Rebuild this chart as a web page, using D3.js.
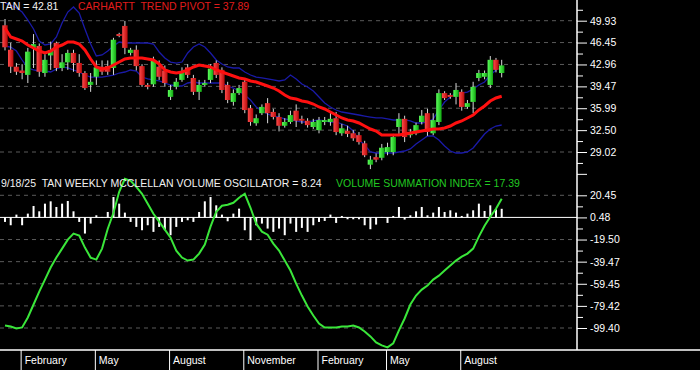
<!DOCTYPE html>
<html>
<head>
<meta charset="utf-8">
<script src="https://d3js.org/d3.v7.min.js"></script>
<style>
  body { margin: 0; background: #000; }
  svg { display: block; }
  text { font-family: "Liberation Sans", Arial, sans-serif; white-space: pre; }
</style>
</head>
<body>
<svg></svg>
<script>
// weekly TAN candles
const opens = [49.2,45.3,42.6,42.0,41.3,45.6,45.9,41.6,44.4,46.4, 42.4,43.3,44.8,43.2,41.6,39.7,41.0,42.6,42.7,42.4,
  47.8,49.1,44.8,45.3,42.7,39.7,39.8,42.6,42.0,37.8, 39.4,40.5,42.5,40.8,38.6,39.7,40.5,43.2,42.1,39.7,
  37.0,38.4,40.2,36.0,33.6,35.2,36.8,35.4,34.6,33.2, 33.8,35.6,34.3,34.0,33.0,32.5,33.8,33.8,34.4,32.0,
  32.4,32.0,31.7,30.4,27.0,28.2,28.1,29.0,29.0,33.0, 34.3,31.7,32.0,33.8,35.2,32.0,33.8,38.4,38.1,37.8,
  38.6,36.2,37.0,40.8,41.0,39.7,43.7,41.6];
const highs = [50.2,46.4,43.2,43.0,45.6,47.8,46.3,44.6,46.6,46.6, 44.6,45.3,45.3,44.6,41.9,41.6,43.6,43.6,43.6,47.2,
  48.0,49.9,45.6,46.0,43.0,40.0,44.2,43.6,42.8,39.7, 40.8,42.5,43.0,41.3,40.5,40.5,43.0,43.6,42.5,40.2,
  39.0,39.7,40.5,36.5,35.0,36.6,37.6,35.9,35.2,34.4, 35.6,36.6,34.8,34.4,34.3,34.6,34.6,35.4,35.4,33.5,
  33.2,32.5,32.2,30.8,28.4,28.8,30.3,30.5,31.9,35.2, 34.8,32.7,33.7,35.7,35.9,35.2,39.0,38.7,38.4,40.0,
  39.0,37.3,40.2,42.1,42.0,44.3,44.0,43.7];
const lows = [45.2,41.6,41.3,40.6,40.0,42.4,41.0,41.0,42.1,41.9, 41.9,42.1,41.8,41.0,38.9,38.6,39.7,41.3,41.3,41.3,
  47.3,44.6,44.4,42.0,39.4,39.0,39.4,40.5,39.4,37.3, 39.0,40.2,40.8,38.1,37.3,39.4,40.0,40.8,38.4,36.8,
  36.4,38.1,35.2,33.2,33.2,34.9,33.6,34.2,32.3,32.9, 33.5,33.0,33.5,32.9,32.7,32.0,33.3,33.2,31.7,31.6,
  31.4,30.8,30.2,28.2,26.3,27.4,27.7,28.5,28.5,31.9, 30.6,31.3,31.7,33.4,31.6,31.7,33.3,37.3,37.5,36.6,
  35.6,35.9,35.2,40.3,40.6,39.2,41.7,40.9];
const closes = [45.7,42.6,41.8,41.6,45.0,46.2,41.8,43.7,45.2,42.4, 43.3,44.8,43.2,41.6,39.2,40.2,42.5,41.8,41.8,46.9,
  47.5,45.6,45.3,42.7,39.7,39.4,43.6,41.0,40.0,38.9, 40.2,41.9,41.3,38.6,39.7,40.0,42.3,41.3,38.9,37.3,
  38.4,39.2,35.7,33.8,34.4,36.2,35.2,34.6,33.2,33.8, 34.9,34.0,34.0,33.3,33.8,34.1,34.1,34.3,32.2,32.8,
  31.9,31.2,30.6,28.5,27.8,27.8,29.7,29.8,31.4,34.3, 31.4,32.2,33.3,34.8,32.2,34.1,38.4,37.6,37.8,38.9,
  36.2,36.8,39.4,41.6,41.6,43.7,42.1,42.81];

// Carhartt trend pivot (red) and the two blue bands
const pivot = [48.77,47.33,47.02,46.70,46.06,45.58,45.10,44.79,45.10,45.74, 46.06,46.54,46.54,46.22,45.26,43.83,42.56,42.24,42.40,42.88,
  43.35,43.83,43.99,43.99,43.99,43.83,43.67,43.04,42.08,41.76, 41.60,41.76,42.08,42.56,42.88,42.72,42.56,42.08,41.76,41.44,
  41.12,40.81,40.65,40.33,40.17,39.85,39.53,39.21,38.74,38.10, 37.62,37.46,37.14,36.98,36.66,36.19,35.87,35.39,34.91,34.44,
  34.12,33.96,33.64,33.16,32.68,32.36,31.73,31.73,31.73,31.73, 31.89,32.05,32.21,32.36,32.52,32.68,32.68,32.84,33.16,33.64,
  33.96,34.44,34.91,35.71,36.35,37.14,37.62,37.89];
const upperBand = [52.75,52.43,51.95,51.31,50.04,48.61,46.70,46.06,46.22,47.33, 49.56,51.31,52.11,51.16,48.61,46.22,44.31,44.47,45.10,45.90,
  46.54,46.38,46.38,46.38,46.38,46.38,46.22,44.95,43.99,43.35, 43.19,43.35,44.79,45.74,46.22,45.74,44.79,43.67,43.04,42.56,
  42.40,42.40,41.76,41.28,40.96,40.81,40.65,40.49,40.33,40.49, 41.28,40.65,39.85,39.37,38.74,37.78,36.83,36.19,35.71,35.39,
  35.23,35.07,34.91,34.75,34.59,34.44,34.44,34.28,34.12,34.12, 34.12,33.96,33.64,33.64,33.80,34.28,35.71,36.98,37.78,38.42,
  38.42,38.57,39.05,39.69,40.17,41.28,42.08,42.56];
const lowerBand = [45.90,45.74,45.10,43.67,42.40,42.08,41.92,41.92,41.76,42.24, 42.56,42.40,42.08,41.76,41.28,40.96,40.96,40.96,41.12,41.28,
  41.60,41.76,42.08,41.92,40.96,40.65,40.49,40.33,40.01,39.69, 39.53,39.53,40.01,40.17,40.01,40.01,40.01,40.01,40.01,39.53,
  39.21,38.74,38.10,37.30,36.19,35.55,35.07,34.75,34.59,34.28, 34.12,33.96,33.80,33.80,33.96,34.12,33.96,33.80,33.80,33.48,
  33.16,32.36,30.93,30.14,29.02,28.86,28.86,28.86,28.86,29.02, 29.18,29.50,30.30,30.93,31.57,31.57,30.93,29.98,29.18,28.86,
  28.86,29.02,29.66,30.77,31.89,32.68,33.16,33.32];

// McClellan volume oscillator (bars) and summation index (green)
const oscillator = [-3.6,-6.6,3.0,-6.6,3.9,10.8,6.0,12.9,15.0,9.9, 12.9,15.3,6.0,-3.6,-14.1,-5.1,2.4,0.9,5.4,18.9,
  12.9,4.8,-3.6,-8.1,-11.1,-6.6,-12.6,-8.1,-11.1,-15.6, -8.1,-3.6,-2.1,-3.6,5.4,15.0,18.9,11.4,3.0,-3.0,
  3.9,8.4,-11.1,-20.1,-6.6,-5.1,-9.6,-12.6,-9.6,-15.6, -5.1,-12.6,-9.0,-12.6,-6.6,-3.6,-2.7,3.0,-4.5,1.8,
  -1.2,-1.2,-1.2,-6.6,-10.2,-6.0,0.9,-4.5,1.8,9.9, -1.5,2.4,6.0,9.9,2.4,4.8,9.9,5.4,6.9,4.8,
  1.8,3.9,6.9,12.9,6.3,11.4,7.8,8.24];
const summation = [-97.1,-98.0,-99.8,-98.9,-89.9,-78.2,-66.5,-55.7,-44.8,-35.8, -27.7,-19.6,-14.2,-16.0,-26.8,-35.8,-37.6,-27.7,-9.7,4.7,
  23.6,35.3,33.5,28.1,21.8,12.8,3.8,-3.4,-10.6,-17.8, -29.5,-35.8,-38.5,-37.6,-32.2,-24.1,-7.9,5.6,11.0,11.9,
  13.7,18.2,21.8,9.2,-5.2,-12.4,-15.1,-23.2,-29.5,-38.5, -47.5,-59.3,-70.1,-80.0,-88.1,-95.3,-98.9,-98.9,-98.9,-98.0,
  -98.0,-97.1,-98.9,-102.5,-107.0,-112.4,-115.1,-116.9,-113.3,-101.6, -90.8,-78.2,-70.1,-64.7,-61.1,-55.7,-52.1,-47.5,-43.0,-38.5,
  -34.9,-32.2,-27.7,-16.9,-7.0,1.1,8.3,17.39];

// axis labels
const priceTicks = [29.02, 32.50, 35.99, 39.47, 42.96, 46.45, 49.93];
const oscTicks = [-99.40, -79.42, -59.45, -39.47, -19.50, 0.48, 20.45];
const monthStarts = [3, 16, 29, 42, 55, 67, 80];
const monthNames = ["February", "May", "August", "November", "February", "May", "August"];

const W = 700, H = 370, axisX = 577, baseY = 350;
const svg = d3.select("svg").attr("width", W).attr("height", H)
  .style("background", "#000");

const n = closes.length;
const x = d3.scaleLinear().domain([0, n - 1]).range([5, 501.7]);
const yP = d3.scaleLinear().domain([29.02, 49.93]).range([152, 20.7]);
const yO = d3.scaleLinear().domain([-99.40, 20.45]).range([328, 195.3]);

// gradients for candle bodies
const defs = svg.append("defs");
function grad(id, a, b) {
  const g = defs.append("linearGradient").attr("id", id).attr("x1", "0").attr("x2", "1").attr("y1", "0").attr("y2", "0");
  g.append("stop").attr("offset", "0%").attr("stop-color", a);
  g.append("stop").attr("offset", "100%").attr("stop-color", b);
}
grad("gUp", "#5cff5c", "#10a810");
grad("gDn", "#ff4a4a", "#b80a0a");

// dashed grid lines
const gridO = oscTicks.filter(d => d !== 0.48);
svg.append("g").selectAll("line").data(priceTicks).join("line")
  .attr("x1", 0).attr("x2", axisX).attr("y1", d => yP(d)).attr("y2", d => yP(d))
  .attr("stroke", "#5a5a5a").attr("stroke-dasharray", "4,4");
svg.append("g").selectAll("line").data(gridO).join("line")
  .attr("x1", 0).attr("x2", axisX).attr("y1", d => yO(d)).attr("y2", d => yO(d))
  .attr("stroke", "#5a5a5a").attr("stroke-dasharray", "4,4");

// oscillator zero line
svg.append("line").attr("x1", 0).attr("x2", axisX).attr("y1", yO(0.48)).attr("y2", yO(0.48))
  .attr("stroke", "#fff").attr("stroke-width", 1);

// oscillator bars
svg.append("g").selectAll("rect").data(oscillator).join("rect")
  .attr("x", (d, i) => x(i) - 1).attr("width", 2)
  .attr("y", d => Math.min(yO(0.48), yO(d)))
  .attr("height", d => Math.abs(yO(d) - yO(0.48)))
  .attr("fill", "#fff");

// bands
const line = (ys, yScale) => d3.line().x((d, i) => x(i)).y(d => yScale(d))(ys);
svg.append("path").attr("d", line(upperBand, yP)).attr("fill", "none").attr("stroke", "#1a1aa8").attr("stroke-width", 1.3);
svg.append("path").attr("d", line(lowerBand, yP)).attr("fill", "none").attr("stroke", "#1a1aa8").attr("stroke-width", 1.3);

// candles
const candles = svg.append("g");
candles.selectAll("line").data(closes).join("line")
  .attr("x1", (d, i) => x(i)).attr("x2", (d, i) => x(i))
  .attr("y1", (d, i) => yP(highs[i])).attr("y2", (d, i) => yP(lows[i]))
  .attr("stroke", "#d8d8d8").attr("stroke-width", 1);
candles.selectAll("rect").data(closes).join("rect")
  .attr("x", (d, i) => x(i) - 2.7).attr("width", 5.4)
  .attr("y", (d, i) => yP(Math.max(opens[i], d)))
  .attr("height", (d, i) => Math.max(1.5, Math.abs(yP(opens[i]) - yP(d))))
  .attr("fill", (d, i) => d >= opens[i] ? "url(#gUp)" : "url(#gDn)");

// pivot
svg.append("path").attr("d", line(pivot, yP)).attr("fill", "none").attr("stroke", "#ff1010").attr("stroke-width", 3);

// summation index
svg.append("path").attr("d", line(summation, yO)).attr("fill", "none").attr("stroke", "#3ae63a").attr("stroke-width", 2);

// right axes
const fmt = d => d.toFixed(2);
const step = priceTicks[1] - priceTicks[0];
const pMajor = [priceTicks[0] - step, ...priceTicks, priceTicks[6] + step];
const pMinor = pMajor.slice(0, -1).map(d => d + step / 2);
const axP = svg.append("g").attr("transform", `translate(${axisX},0)`)
  .call(d3.axisRight(yP).tickValues(pMajor).tickSize(10).tickPadding(3)
    .tickFormat(d => priceTicks.includes(d) ? fmt(d) : ""));
const axPm = svg.append("g").attr("transform", `translate(${axisX},0)`)
  .call(d3.axisRight(yP).tickValues(pMinor).tickSize(6).tickFormat(""));

const oStep = oscTicks[1] - oscTicks[0];
const oMinor = oscTicks.slice(0, -1).map(d => d + oStep / 2);
const axO = svg.append("g").attr("transform", `translate(${axisX},0)`)
  .call(d3.axisRight(yO).tickValues(oscTicks).tickSize(10).tickPadding(3).tickFormat(fmt));
const axOm = svg.append("g").attr("transform", `translate(${axisX},0)`)
  .call(d3.axisRight(yO).tickValues(oMinor).tickSize(6).tickFormat(""));

[axP, axPm, axO, axOm].forEach(g => {
  g.select(".domain").remove();
  g.selectAll("line").attr("stroke", "#fff");
  g.selectAll("text").attr("fill", "#fff").style("font-size", "10.5px")
    .style("font-family", "'Liberation Sans', Arial, sans-serif");
});

svg.append("line").attr("x1", axisX).attr("x2", axisX).attr("y1", 0).attr("y2", baseY)
  .attr("stroke", "#fff").attr("stroke-width", 1.5);
svg.append("line").attr("x1", 0).attr("x2", W).attr("y1", baseY).attr("y2", baseY)
  .attr("stroke", "#fff").attr("stroke-width", 1.5);

// month axis
const months = svg.append("g");
months.selectAll("line").data(monthStarts).join("line")
  .attr("x1", d => x(d) - 1).attr("x2", d => x(d) - 1).attr("y1", baseY).attr("y2", H)
  .attr("stroke", "#fff");
months.selectAll("text").data(monthStarts).join("text")
  .attr("x", d => x(d) + 2.5).attr("y", 364)
  .attr("fill", "#fff").style("font-size", "10.5px")
  .text((d, i) => monthNames[i]);

// titles
const t = (xx, yy, c, s) => svg.append("text").attr("x", xx).attr("y", yy).attr("fill", c)
  .style("font-size", "10.5px").text(s);
t(0, 10, "#f2f2f2", "TAN = 42.81");
t(78, 10, "#e01c1c", "CARHARTT  TREND PIVOT = 37.89");
t(1, 187, "#f2f2f2", "9/18/25  TAN WEEKLY MCCLELLAN VOLUME OSCILLATOR = 8.24");
t(336, 187, "#22c822", "VOLUME SUMMATION INDEX = 17.39");
</script>
</body>
</html>
